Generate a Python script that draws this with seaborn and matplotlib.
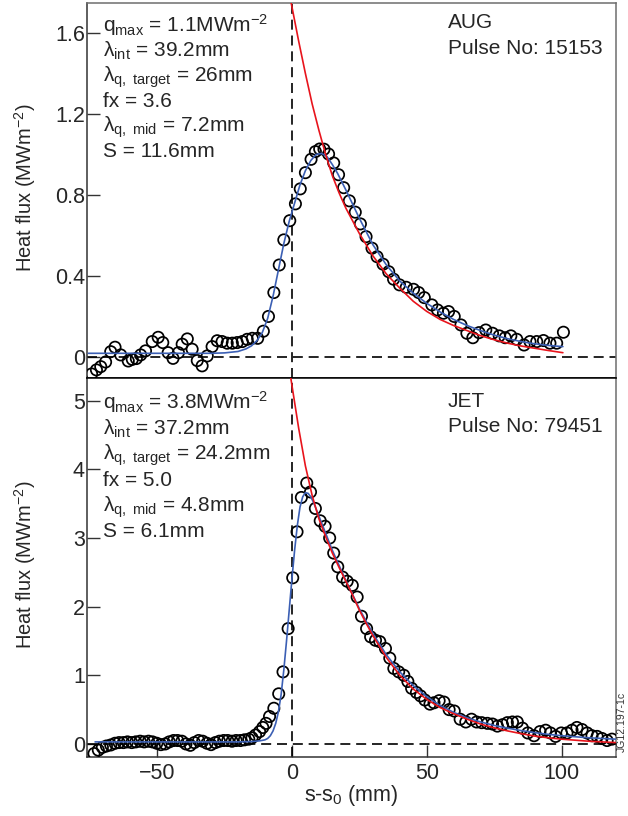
import numpy as np
import pandas as pd
import matplotlib
matplotlib.use('Agg')
import matplotlib.pyplot as plt
import seaborn as sns

# ---- AUG pulse 15153 (top panel) ----
aug_s = [-74.3, -72.5, -70.9, -69.1, -67.2, -65.6, -63.5, -60.7, -59.2, -57.7,
         -56.1, -54.3, -51.8, -49.6, -47.9, -45.9, -44.1, -42.1, -40.7, -38.8,
         -37.0, -35.1, -33.3, -31.4, -29.6, -27.7, -25.9, -24.0, -22.1, -20.3,
         -18.4, -16.6, -14.7, -12.7, -10.6, -8.7, -6.7, -4.7, -3.0, -0.8,
         1.3, 3.1, 5.0, 7.1, 8.7, 10.3, 11.9, 13.6, 15.5, 17.3,
         19.2, 21.3, 23.5, 25.4, 27.5, 29.7, 31.6, 33.8, 35.9, 37.7,
         39.9, 42.4, 45.1, 47.0, 49.1, 51.9, 54.0, 56.2, 58.1, 60.2,
         62.7, 64.9, 67.1, 69.4, 71.9, 74.4, 76.9, 79.1, 81.2, 83.4,
         86.1, 88.3, 90.8, 93.3, 95.7, 98.2, 100.7]
aug_q = [-0.084, -0.064, -0.048, -0.025, 0.026, 0.048, 0.010, -0.020, -0.012, -0.008,
         0.010, 0.030, 0.076, 0.097, 0.071, 0.021, -0.007, 0.021, 0.063, 0.089,
         0.038, -0.018, -0.044, 0.005, 0.051, 0.080, 0.076, 0.068, 0.068, 0.071,
         0.076, 0.087, 0.092, 0.092, 0.127, 0.200, 0.318, 0.454, 0.578, 0.673,
         0.756, 0.830, 0.910, 0.976, 1.014, 1.027, 1.026, 1.002, 0.958, 0.900,
         0.836, 0.771, 0.715, 0.657, 0.594, 0.537, 0.495, 0.458, 0.421, 0.384,
         0.356, 0.344, 0.334, 0.318, 0.293, 0.257, 0.232, 0.216, 0.224, 0.200,
         0.158, 0.117, 0.095, 0.120, 0.133, 0.117, 0.104, 0.095, 0.104, 0.087,
         0.059, 0.076, 0.076, 0.081, 0.068, 0.068, 0.122]

# fit (blue) and exponential (red)
aug_fit_s = [-75.5, -30, -25, -20, -17, -15, -13, -11, -9, -7,
             -5, -3, -1, 1, 3, 5, 7, 9, 11, 13,
             15, 17, 20, 25, 30, 35, 40, 45, 50, 55,
             60, 65, 70, 75, 80, 85, 90, 95, 100.5]
aug_fit_q = [0.018, 0.018, 0.02, 0.027, 0.04, 0.055, 0.08, 0.12, 0.19, 0.30,
             0.43, 0.56, 0.67, 0.76, 0.85, 0.92, 0.97, 1.0, 1.005, 0.99,
             0.95, 0.905, 0.825, 0.685, 0.555, 0.455, 0.375, 0.315, 0.265, 0.222,
             0.185, 0.155, 0.13, 0.108, 0.09, 0.076, 0.065, 0.057, 0.051]
aug_exp_s = [-0.3, 2.5, 5, 7.5, 10, 12.5, 15, 17.5, 20, 25, 30, 35, 40, 45, 50,
             55, 60, 65, 70, 75, 80, 85, 90, 95, 100.5]
aug_exp_q = [1.75, 1.56, 1.40, 1.25, 1.12, 1.0, 0.895, 0.81, 0.735, 0.61, 0.50,
             0.41, 0.34, 0.275, 0.225, 0.185, 0.155, 0.13, 0.105, 0.085, 0.068,
             0.054, 0.043, 0.032, 0.021]

# ---- JET pulse 79451 (bottom panel) ----
jet_s = [-73.4, -71.8, -70.3, -68.8, -67.2, -65.6, -64.1, -62.5, -61.0, -59.4,
         -57.9, -56.3, -54.8, -53.2, -51.7, -50.1, -48.6, -47.0, -45.5, -43.9,
         -42.4, -40.8, -39.3, -37.7, -36.2, -34.6, -33.1, -31.5, -30.0, -28.4,
         -26.9, -25.3, -23.8, -22.2, -20.7, -19.1, -17.6, -16.0, -14.8, -13.5,
         -12.0, -10.8, -9.6, -8.3, -6.7, -4.9, -3.3, -1.4, 0.3, 1.9,
         3.5, 5.5, 6.9, 8.7, 10.5, 12.3, 14.0, 15.5, 17.0, 18.8,
         20.5, 22.4, 24.2, 25.8, 27.7, 29.2, 31.0, 32.6, 34.7, 36.3,
         37.8, 39.6, 41.5, 43.0, 44.4, 46.2, 47.7, 49.3, 51.2, 52.7,
         54.6, 56.4, 58.3, 60.2, 62.4, 64.5, 66.6, 68.5, 70.4, 72.5,
         74.4, 76.2, 78.1, 79.9, 81.8, 83.6, 85.5, 87.5, 89.8, 92.0,
         94.1, 95.9, 97.8, 99.9, 102.0, 103.9, 105.7, 107.6, 109.5, 111.3,
         113.2, 115.0, 116.9, 118.7]
jet_q = [-0.14, -0.09, -0.05, -0.03, -0.015, 0.01, 0.02, 0.02, 0.03, 0.02,
         0.03, 0.04, 0.03, 0.04, 0.03, 0.01, -0.01, 0.0, 0.03, 0.05,
         0.05, 0.04, 0.0, -0.02, 0.02, 0.05, 0.04, 0.01, -0.01, 0.02,
         0.04, 0.05, 0.05, 0.04, 0.05, 0.05, 0.06, 0.07, 0.09, 0.13,
         0.18, 0.24, 0.30, 0.40, 0.52, 0.73, 1.05, 1.68, 2.42, 3.09,
         3.59, 3.80, 3.67, 3.43, 3.25, 3.17, 3.00, 2.78, 2.58, 2.43,
         2.37, 2.31, 2.14, 1.86, 1.68, 1.56, 1.51, 1.49, 1.39, 1.25,
         1.10, 1.05, 1.00, 0.91, 0.81, 0.75, 0.70, 0.64, 0.58, 0.60,
         0.63, 0.61, 0.50, 0.48, 0.36, 0.32, 0.36, 0.32, 0.31, 0.30,
         0.29, 0.26, 0.28, 0.31, 0.32, 0.32, 0.23, 0.16, 0.12, 0.18,
         0.20, 0.16, 0.11, 0.16, 0.16, 0.20, 0.24, 0.21, 0.16, 0.12,
         0.11, 0.08, 0.05, 0.07]

jet_fit_s = [-73, -30, -20, -15, -12, -10, -9, -8, -7, -6,
             -5, -4, -3, -2, -1, 0, 1, 2, 3, 4,
             5, 6, 7, 8, 10, 12, 15, 20, 25, 30,
             35, 40, 45, 50, 55, 60, 65, 70, 75, 80,
             85, 90, 95, 100, 110, 120]
jet_fit_q = [0.03, 0.03, 0.03, 0.035, 0.045, 0.06, 0.08, 0.12, 0.19, 0.30,
             0.47, 0.72, 1.08, 1.50, 1.95, 2.40, 2.82, 3.18, 3.45, 3.60,
             3.66, 3.65, 3.60, 3.52, 3.32, 3.12, 2.82, 2.38, 1.97, 1.61,
             1.30, 1.05, 0.85, 0.69, 0.56, 0.46, 0.38, 0.32, 0.27, 0.23,
             0.195, 0.165, 0.14, 0.12, 0.09, 0.07]
jet_exp_s = [-0.5, 2.5, 5, 7.5, 10, 12.5, 15, 17.5, 20, 22.5,
             25, 27.5, 30, 35, 40, 45, 50, 55, 60, 65,
             70, 75, 80, 85, 90, 95, 100, 105, 110, 115, 120]
jet_exp_q = [5.35, 4.6, 4.05, 3.62, 3.28, 3.02, 2.78, 2.57, 2.37, 2.17,
             1.95, 1.76, 1.58, 1.26, 1.0, 0.8, 0.65, 0.53, 0.44, 0.36,
             0.29, 0.235, 0.19, 0.15, 0.115, 0.09, 0.07, 0.055, 0.04, 0.03, 0.02]

aug_text = [r'q$_{\mathrm{max}}$ = 1.1MWm$^{-2}$', 'λ' + r'$_{\mathrm{int}}$ = 39.2mm',
            'λ' + r'$_{\mathrm{q,\ target}}$ = 26mm', 'fx = 3.6',
            'λ' + r'$_{\mathrm{q,\ mid}}$ = 7.2mm', 'S = 11.6mm']
jet_text = [r'q$_{\mathrm{max}}$ = 3.8MWm$^{-2}$', 'λ' + r'$_{\mathrm{int}}$ = 37.2mm',
            'λ' + r'$_{\mathrm{q,\ target}}$ = 24.2mm', 'fx = 5.0',
            'λ' + r'$_{\mathrm{q,\ mid}}$ = 4.8mm', 'S = 6.1mm']

sns.set_style('ticks')
plt.rcParams['font.family'] = ['Liberation Sans', 'DejaVu Sans']
plt.rcParams['mathtext.fontset'] = 'custom'
plt.rcParams['mathtext.rm'] = 'Liberation Sans'
plt.rcParams['mathtext.it'] = 'Liberation Sans:italic'
plt.rcParams['mathtext.bf'] = 'Liberation Sans:bold'

W, H = 628, 816
fig = plt.figure(figsize=(W / 100, H / 100), dpi=100)
L, R = 87, 616
ax1 = fig.add_axes([L / W, 1 - 378 / H, (R - L) / W, 375 / H])
ax2 = fig.add_axes([L / W, 1 - 757 / H, (R - L) / W, 379 / H])

BLUE = '#3b5fb4'
RED = '#e8141c'
TXT = 15


def draw(ax, s, q, fs, fq, es, eq):
    ax.axhline(0, color='black', lw=1.2, ls=(0, (6, 3.5)), zorder=1)
    ax.axvline(0, color='black', lw=1.2, ls=(0, (6, 3.5)), zorder=1)
    sns.scatterplot(x=s, y=q, ax=ax, marker='o', s=66, facecolor='none',
                    edgecolor='black', linewidth=1.25, zorder=3)
    sns.lineplot(x=fs, y=fq, ax=ax, color=BLUE, lw=1.2, estimator=None,
                 sort=False, zorder=4)
    sns.lineplot(x=es, y=eq, ax=ax, color=RED, lw=1.2, estimator=None,
                 sort=False, zorder=4)
    ax.set_xlim(-76, 120.2)
    ax.tick_params(direction='in', length=9, width=1.0, labelsize=15.5,
                   color='#333333', pad=1.5)
    ax.set_xlabel('')
    ax.set_ylabel('')
    for sp in ax.spines.values():
        sp.set_linewidth(1.1)
        sp.set_color('#6e6e6e')


draw(ax1, aug_s, aug_q, aug_fit_s, aug_fit_q, aug_exp_s, aug_exp_q)
draw(ax2, jet_s, jet_q, jet_fit_s, jet_fit_q, jet_exp_s, jet_exp_q)

ax1.set_ylim(-0.104, 1.748)
ax1.set_yticks([0, 0.4, 0.8, 1.2, 1.6])
ax1.set_yticklabels(['0', '0.4', '0.8', '1.2', '1.6'])
ax1.tick_params(axis='x', bottom=False, labelbottom=False)
ax1.spines['bottom'].set_color('black')
ax1.spines['left'].set_color('#333333')

ax2.set_ylim(-0.19, 5.33)
ax2.set_yticks([0, 1, 2, 3, 4, 5])
ax2.set_yticklabels(['0', '1', '2', '3', '4', '5'])
ax2.set_xticks([-50, 0, 50, 100])
ax2.set_xticklabels(['\u221250', '0', '50', '100'])
ax2.tick_params(axis='x', pad=4)
ax2.spines['top'].set_color('black')
ax2.spines['left'].set_color('#333333')
ax2.spines['bottom'].set_color('#333333')


def ftext(x, y, s, **kw):
    fig.text(x / W, 1 - y / H, s, **kw)


for i, t in enumerate(aug_text):
    ftext(103, 32 + 25 * i, t, fontsize=TXT, va='baseline')
for i, t in enumerate(jet_text):
    ftext(103, 409 + 25.6 * i, t, fontsize=TXT, va='baseline')

ftext(448, 28, 'AUG', fontsize=TXT, va='baseline')
ftext(448, 54, 'Pulse No: 15153', fontsize=TXT, va='baseline')
ftext(448, 407, 'JET', fontsize=TXT, va='baseline')
ftext(448, 432, 'Pulse No: 79451', fontsize=TXT, va='baseline')

ftext(25, 188, r'Heat flux (MWm$^{-2}$)', fontsize=14.5, rotation=90,
      ha='center', va='center')
ftext(25, 565, r'Heat flux (MWm$^{-2}$)', fontsize=14.5, rotation=90,
      ha='center', va='center')
ftext(351, 801, r's-s$_0$ (mm)', fontsize=15.5, ha='center', va='baseline')
ftext(622, 722, 'JG12.197-1c', fontsize=7.5, rotation=90, ha='center',
      va='center', color='#333333')

fig.savefig('out.png', dpi=100)
